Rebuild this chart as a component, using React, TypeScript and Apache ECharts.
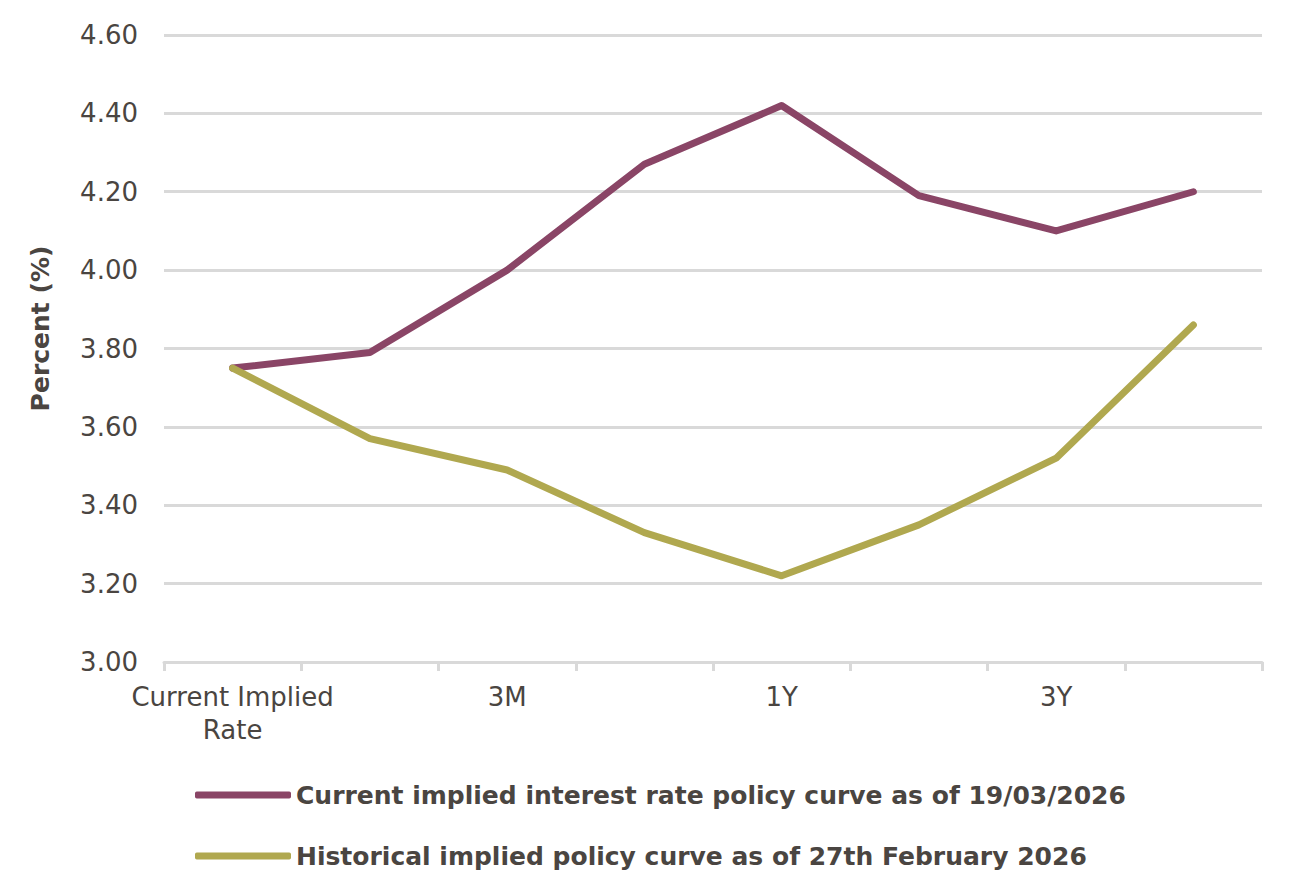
import React, { useEffect, useRef } from "react";
import * as echarts from "echarts";

const categories = ["Current Implied\nRate", "1M", "3M", "6M", "1Y", "2Y", "3Y", "5Y"];
const currentCurve = [3.75, 3.79, 4.0, 4.27, 4.42, 4.19, 4.1, 4.2];
const historicalCurve = [3.75, 3.57, 3.49, 3.33, 3.22, 3.35, 3.52, 3.86];
const currentName = "Current implied interest rate policy curve as of 19/03/2026";
const historicalName = "Historical implied policy curve as of 27th February 2026";

export default function App() {
  const ref = useRef<HTMLDivElement>(null);
  useEffect(() => {
    if (!ref.current) return;
    const chart = echarts.init(ref.current, undefined, { renderer: "svg" });
    const textColor = "#4a4541";
    chart.setOption({
      animation: false,
      backgroundColor: "#ffffff",
      grid: { left: 164, right: 46, top: 35, bottom: 225, containLabel: false },
      xAxis: {
        type: "category",
        data: categories,
        boundaryGap: true,
        axisLine: { show: true, lineStyle: { color: "#d9d9d9", width: 3 } },
        axisTick: { show: true, interval: 0, length: 9, lineStyle: { color: "#d9d9d9", width: 3 } },
        axisLabel: {
          interval: 1,
          margin: 18,
          color: textColor,
          fontFamily: "DejaVu Sans",
          fontSize: 26,
          lineHeight: 33,
        },
      },
      yAxis: {
        type: "value",
        min: 3.0,
        max: 4.6,
        interval: 0.2,
        name: "Percent (%)",
        nameLocation: "middle",
        nameGap: 111,
        nameRotate: 90,
        nameTextStyle: {
          color: textColor,
          fontFamily: "DejaVu Sans",
          fontWeight: "bold",
          fontSize: 25,
          padding: [0, 0, 0, 40],
        },
        axisLine: { show: false },
        axisTick: { show: false },
        splitLine: { show: true, lineStyle: { color: "#d9d9d9", width: 3 } },
        axisLabel: {
          margin: 26,
          color: textColor,
          fontFamily: "DejaVu Sans",
          fontSize: 26,
          formatter: (v: number) => v.toFixed(2),
        },
      },
      legend: {
        orient: "vertical",
        left: 190,
        top: 775,
        height: 105,
        itemWidth: 96,
        itemHeight: 7,
        itemGap: 31,
        icon: "roundRect",
        textStyle: {
          color: textColor,
          fontFamily: "DejaVu Sans",
          fontWeight: "bold",
          fontSize: 25,
          lineHeight: 30,
        },
        data: [currentName, historicalName],
      },
      series: [
        {
          name: currentName,
          type: "line",
          data: currentCurve,
          symbol: "none",
          lineStyle: { color: "#8a4566", width: 7, cap: "round", join: "round" },
          itemStyle: { color: "#8a4566" },
        },
        {
          name: historicalName,
          type: "line",
          data: historicalCurve,
          symbol: "none",
          lineStyle: { color: "#b0a84f", width: 7, cap: "round", join: "round" },
          itemStyle: { color: "#b0a84f" },
        },
      ],
    });
    return () => chart.dispose();
  }, []);
  return (
    <div
      ref={ref}
      style={{ position: "absolute", left: 0, top: 0, width: 1308, height: 887 }}
    />
  );
}
